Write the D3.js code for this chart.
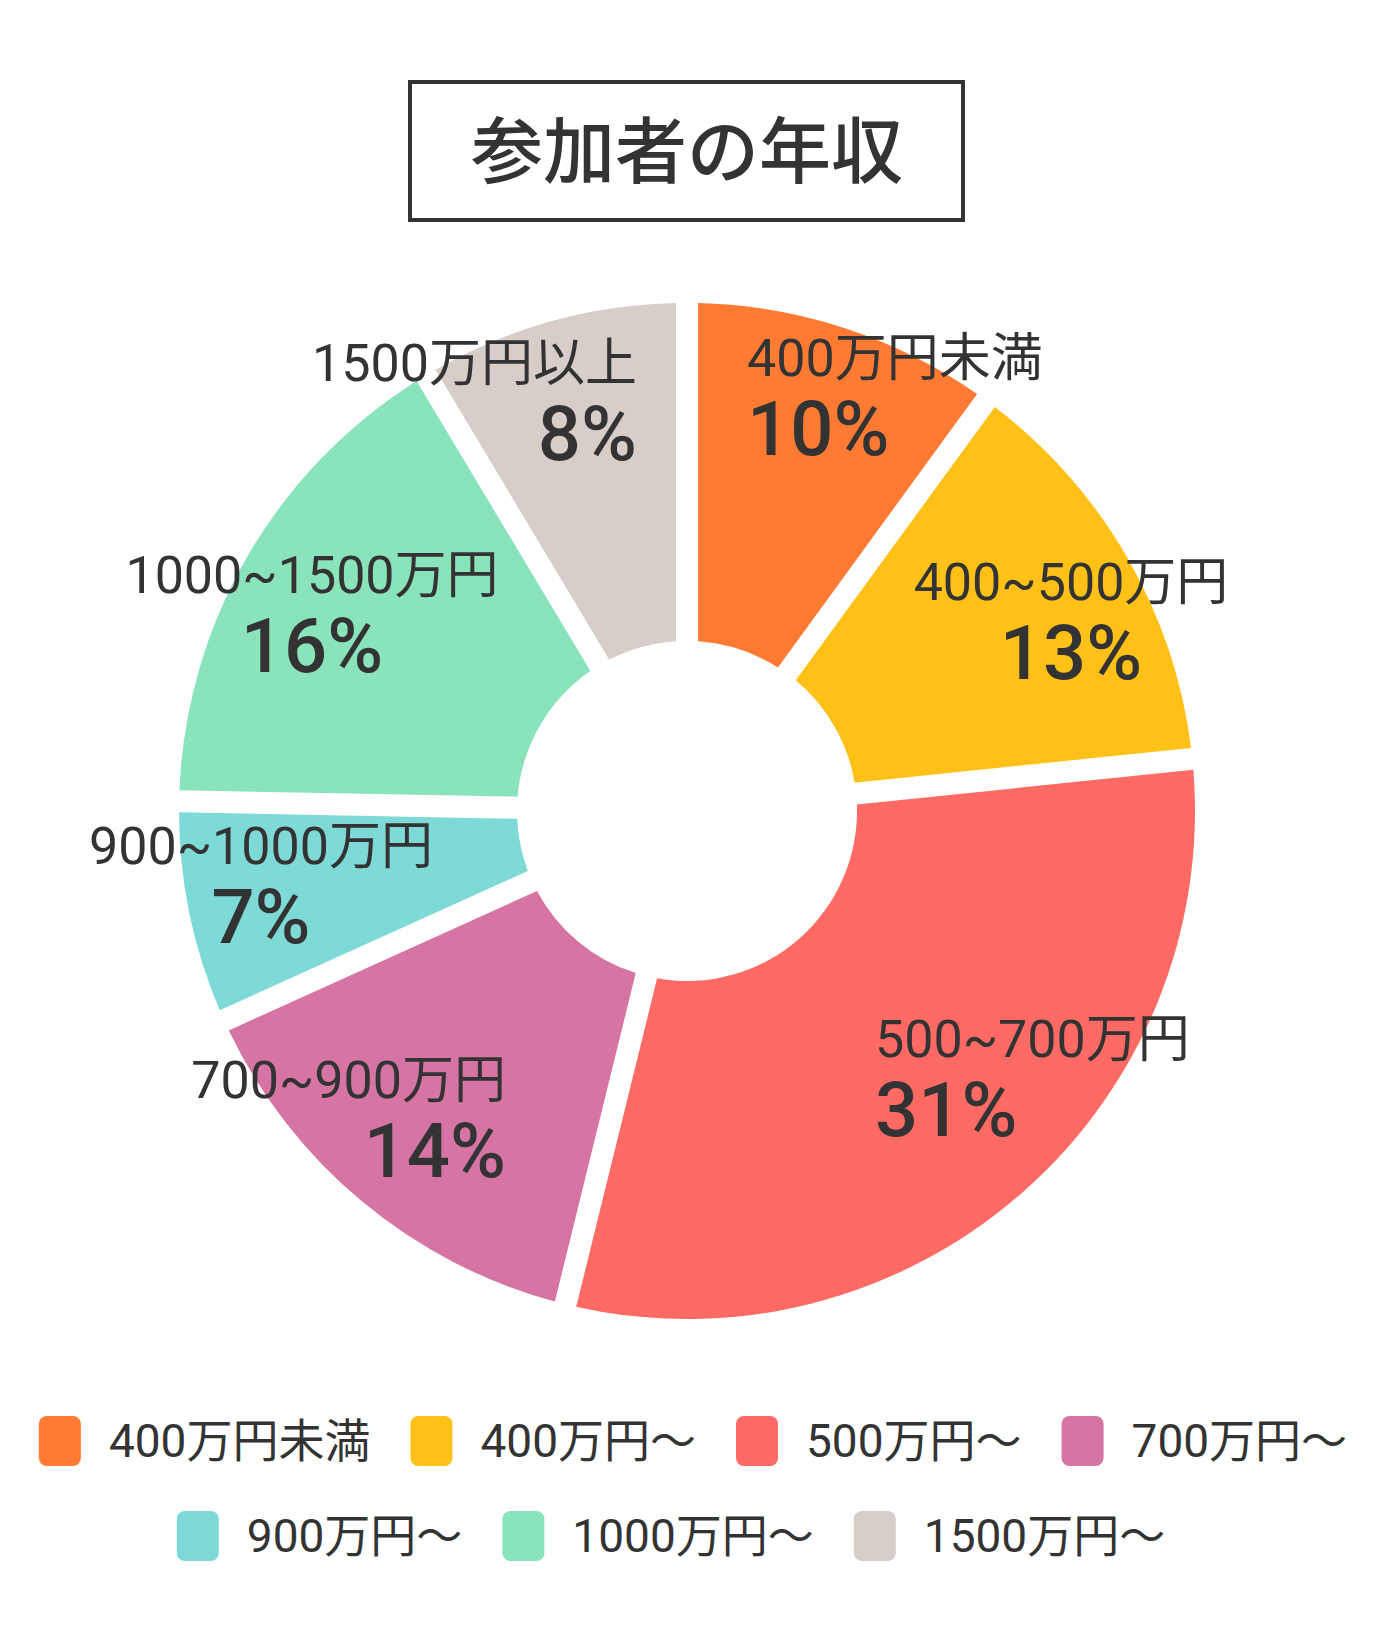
<!DOCTYPE html>
<html>
<head>
<meta charset="utf-8">
<script src="https://cdn.jsdelivr.net/npm/d3@7"></script>
<style>
  html, body { margin: 0; padding: 0; background: #fff; }
  svg { display: block; }
  text { font-family: Roboto, "Noto Sans CJK JP", sans-serif; fill: #333; }
</style>
</head>
<body>
<svg id="chart" width="1380" height="1640"></svg>
<script>
// data
const title = "参加者の年収";
const sliceNames = ["400万円未満", "400~500万円", "500~700万円", "700~900万円", "900~1000万円", "1000~1500万円", "1500万円以上"];
const legendNames = ["400万円未満", "400万円〜", "500万円〜", "700万円〜", "900万円〜", "1000万円〜", "1500万円〜"];
const shares = [9.8, 13.3, 31.3, 14.4, 6.7, 16.2, 8.3];
const colors = ["#FF7A33", "#FFC117", "#FF6B64", "#D675A3", "#7DDAD6", "#8AE4BB", "#D7CDC9"];

// label placement (relative to pie centre)
const labelX = [60, 384, 188, -181, -426, -375, -50];
const labelY = [-435, -211, 246, 287, 53, -218, -430];
const labelAnchor = ["start", "middle", "start", "end", "middle", "middle", "end"];

const cx = 687, cy = 811;
const outerR = 508, innerR = 170;
const gap = 22;

const svg = d3.select("#chart");

// title box
svg.append("rect")
  .attr("x", 410).attr("y", 82)
  .attr("width", 553).attr("height", 138)
  .attr("fill", "none")
  .attr("stroke", "#333")
  .attr("stroke-width", 4);

svg.append("text")
  .attr("x", cx).attr("y", 152)
  .attr("text-anchor", "middle")
  .attr("dominant-baseline", "central")
  .attr("font-size", 72)
  .attr("font-weight", 500)
  .text(title);

// pie
const pie = d3.pie().sort(null).value(d => d).padAngle(gap / outerR);
const arc = d3.arc().innerRadius(innerR).outerRadius(outerR).padRadius(outerR);
const arcs = pie(shares);

const g = svg.append("g").attr("transform", `translate(${cx},${cy})`);

g.selectAll("path.slice")
  .data(arcs)
  .join("path")
  .attr("class", "slice")
  .attr("d", arc)
  .attr("fill", (d, i) => colors[i]);

const total = d3.sum(shares);

const lab = g.selectAll("g.lab")
  .data(arcs)
  .join("g")
  .attr("class", "lab")
  .attr("transform", (d, i) => `translate(${labelX[i]},${labelY[i]})`)
  .attr("text-anchor", (d, i) => labelAnchor[i]);

lab.append("text")
  .attr("font-size", 52)
  .attr("font-weight", 400)
  .text((d, i) => sliceNames[i]);

lab.append("text")
  .attr("y", 79)
  .attr("font-size", 76)
  .attr("font-weight", 500)
  .text(d => Math.round(d.value / total * 100) + "%");

// legend
const rows = [[0, 1, 2, 3], [4, 5, 6]];
const rowY = [1441, 1536];
const rowShift = [6, -16];
const boxW = 42, boxH = 50, boxGap = 28, itemGap = 40;

const legend = svg.append("g").attr("class", "legend");

rows.forEach((row, r) => {
  const rowG = legend.append("g");
  let x = 0;
  row.forEach(i => {
    const item = rowG.append("g").attr("transform", `translate(${x},${rowY[r]})`);
    item.append("rect")
      .attr("x", 0).attr("y", -boxH / 2)
      .attr("width", boxW).attr("height", boxH)
      .attr("rx", 8)
      .attr("fill", colors[i]);
    const t = item.append("text")
      .attr("x", boxW + boxGap)
      .attr("dominant-baseline", "central")
      .attr("font-size", 46)
      .attr("font-weight", 400)
      .text(legendNames[i]);
    x += boxW + boxGap + t.node().getComputedTextLength() + itemGap;
  });
  const rowWidth = x - itemGap;
  rowG.attr("transform", `translate(${cx - rowWidth / 2 + rowShift[r]},0)`);
});
</script>
</body>
</html>
